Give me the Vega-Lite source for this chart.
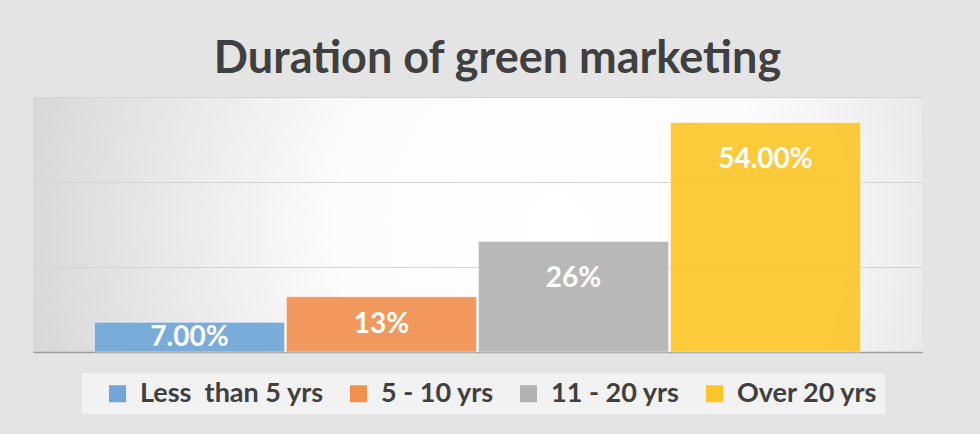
{
  "$schema": "https://vega.github.io/schema/vega-lite/v6.json",
  "autosize": {"type": "none"},
  "width": 889,
  "height": 255,
  "padding": {"left": 33, "top": 97, "right": 58, "bottom": 82},
  "background": "#e4e4e4",
  "title": {
    "text": "Duration of green marketing",
    "font": "Lato",
    "fontSize": 45,
    "fontWeight": "bold",
    "color": "#404040",
    "anchor": "middle",
    "baseline": "alphabetic",
    "offset": 24,
    "dy": 45,
    "dx": 20
  },
  "data": {
    "values": [
      {"category": "Less\u00a0 than 5 yrs", "value": 0.07, "label": "7.00%"},
      {"category": "5 - 10 yrs", "value": 0.13, "label": "13%"},
      {"category": "11 - 20 yrs", "value": 0.26, "label": "26%"},
      {"category": "Over 20 yrs", "value": 0.54, "label": "54.00%"}
    ]
  },
  "encoding": {
    "x": {
      "field": "category",
      "type": "nominal",
      "sort": null,
      "scale": {"paddingInner": 0.01, "paddingOuter": 0.32},
      "axis": {"labels": false, "ticks": false, "title": null, "domain": true, "domainColor": "#9a9a9a", "domainWidth": 1.5}
    }
  },
  "layer": [
    {
      "mark": {"type": "bar", "fillOpacity": 0.92, "stroke": "#ffffff", "strokeOpacity": 0.5, "strokeWidth": 1},
      "encoding": {
        "y": {
          "field": "value",
          "type": "quantitative",
          "scale": {"domain": [0, 0.6], "nice": false},
          "axis": {"values": [0, 0.2, 0.4, 0.6], "labels": false, "ticks": false, "domain": false, "title": null, "grid": true, "gridColor": "#d4d4d4", "gridWidth": 1.2}
        },
        "color": {
          "field": "category",
          "type": "nominal",
          "sort": ["Less\u00a0 than 5 yrs", "5 - 10 yrs", "11 - 20 yrs", "Over 20 yrs"],
          "scale": {"domain": ["Less\u00a0 than 5 yrs", "5 - 10 yrs", "11 - 20 yrs", "Over 20 yrs"], "range": ["#70a6d8", "#f0904f", "#b2b2b2", "#fcc52a"]},
          "legend": {
            "orient": "none",
            "legendX": 49,
            "legendY": 276,
            "direction": "horizontal",
            "title": null,
            "symbolType": "square",
            "symbolSize": 289,
            "symbolStrokeWidth": 0,
            "symbolOpacity": 1,
            "labelFont": "Lato",
            "labelFontSize": 27,
            "labelFontWeight": "bold",
            "labelColor": "#404040",
            "labelLimit": 400,
            "labelOffset": 9,
            "columnPadding": 6,
            "symbolOffset": 15,
            "fillColor": "#f2f2f2",
            "padding": 7
          }
        }
      }
    },
    {
      "transform": [{"filter": "datum.value > 0.2"}],
      "mark": {"type": "text", "font": "Lato", "fontSize": 28, "fontWeight": "bold", "color": "#ffffff", "baseline": "middle", "dy": 37},
      "encoding": {
        "y": {"field": "value", "type": "quantitative"},
        "text": {"field": "label"}
      }
    },
    {
      "transform": [{"filter": "datum.value > 0.1 && datum.value < 0.2"}],
      "mark": {"type": "text", "font": "Lato", "fontSize": 28, "fontWeight": "bold", "color": "#ffffff", "baseline": "middle", "dy": 28},
      "encoding": {
        "y": {"field": "value", "type": "quantitative"},
        "text": {"field": "label"}
      }
    },
    {
      "transform": [{"filter": "datum.value < 0.1"}],
      "mark": {"type": "text", "font": "Lato", "fontSize": 28, "fontWeight": "bold", "color": "#ffffff", "baseline": "middle", "dy": 16},
      "encoding": {
        "y": {"field": "value", "type": "quantitative"},
        "text": {"field": "label"}
      }
    }
  ],
  "config": {
    "view": {"stroke": null, "fill": {"expr": "{gradient: 'radial', x1: 0.59, y1: 0.5, r1: 0, x2: 0.59, y2: 0.5, r2: 0.62, stops: [{offset: 0, color: '#ffffff'}, {offset: 0.4, color: '#fcfcfc'}, {offset: 1, color: '#d6d6d6'}]}"}}
  }
}
